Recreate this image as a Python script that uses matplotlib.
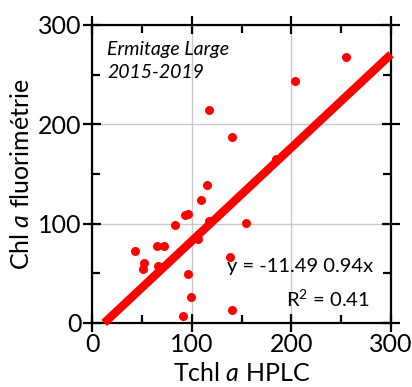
import numpy as np
import matplotlib
matplotlib.use("Agg")
import matplotlib.pyplot as plt
from matplotlib.ticker import MultipleLocator

plt.rcParams['font.family'] = ['Lato', 'DejaVu Sans']
plt.rcParams['mathtext.fontset'] = 'custom'
plt.rcParams['mathtext.it'] = 'Lato:italic'
plt.rcParams['mathtext.rm'] = 'Lato'

# Data: Tchl a HPLC vs Chl a fluorimetrie
hplc = [43, 51, 52, 65, 72, 66, 83, 93, 96, 109, 106, 117, 96, 99, 91.5, 138, 140, 155,
        255, 204, 117, 140, 184.5, 115]
fluo = [72, 54, 60, 78, 78, 57, 99, 108.5, 110, 124, 85, 102.5, 49, 26, 7, 66, 13, 101,
        268, 244, 214, 187, 165.5, 139]

# regression shown in the chart
intercept = -11.49
slope = 0.94
r2 = 0.41

fig = plt.figure(figsize=(4.12, 3.87), dpi=100)
ax = fig.add_axes([92 / 412, 1 - 323 / 387, 299 / 412, 298 / 387])

ax.set_xlim(0, 300)
ax.set_ylim(0, 300)

ax.grid(True, color='#c8c8c8', linewidth=1)
ax.set_axisbelow(True)

ax.scatter(hplc, fluo, s=42, color='#ff0000', zorder=3, linewidths=0)

x0 = -intercept / slope
xl = np.array([x0, 300])
ax.plot(xl, intercept + slope * xl, color='#ff0000', linewidth=6,
        solid_capstyle='butt', zorder=4, clip_on=False)

for s in ax.spines.values():
    s.set_linewidth(1.6)

ax.xaxis.set_major_locator(MultipleLocator(100))
ax.yaxis.set_major_locator(MultipleLocator(100))
ax.xaxis.set_minor_locator(MultipleLocator(50))
ax.yaxis.set_minor_locator(MultipleLocator(50))
ax.tick_params(which='major', direction='inout', length=13, width=1.6,
               top=True, right=True, labelsize=18, pad=1)
ax.tick_params(which='minor', direction='in', length=6, width=1.6,
               top=True, right=True)

ax.set_xlabel('Tchl $a$ HPLC', fontsize=18, labelpad=4)
ax.set_ylabel('Chl $a$ fluorimétrie', fontsize=18, labelpad=4)

ax.text(0.05, 0.945, 'Ermitage Large\n2015-2019', transform=ax.transAxes,
        fontsize=14, style='italic', va='top', ha='left', linespacing=1.4)
ax.text(0.94, 0.19, f'y = {intercept} {slope}x', transform=ax.transAxes,
        fontsize=14.5, va='center', ha='right')
ax.text(0.93, 0.08, f'R$^2$ = {r2}', transform=ax.transAxes,
        fontsize=14.5, va='center', ha='right')

fig.savefig('out.png', dpi=100)
